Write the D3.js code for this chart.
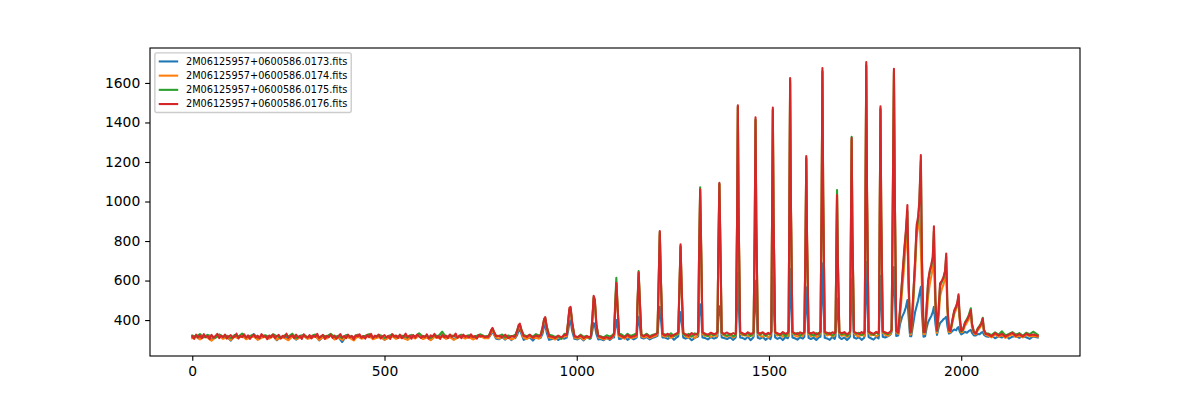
<!DOCTYPE html>
<html><head><meta charset="utf-8">
<script src="https://cdn.jsdelivr.net/npm/d3@7"></script>
<style>body{margin:0;background:#fff}svg{display:block}text{font-family:"DejaVu Sans",sans-serif;fill:#000}</style>
</head><body><svg id="chart" width="1200" height="400"></svg>
<script>
const seriesNames = ["2M06125957+0600586.0173.fits","2M06125957+0600586.0174.fits","2M06125957+0600586.0175.fits","2M06125957+0600586.0176.fits"];
const seriesColors = ["#1f77b4","#ff7f0e","#2ca02c","#d62728"];
const xTickValues = [0,500,1000,1500,2000];
const yTickValues = [400,600,800,1000,1200,1400,1600];

// flat part of the spectrum: samples every 10 units (files 0173-0175) and every 5 units (file 0176), 0 to 760
const flatX = d3.range(0, 761, 10);
const flatXFine = d3.range(0, 761, 5);
const flat0173 = [312,320,305,316,322,300,314,325,309,317,296,319,311,323,307,315,329,302,313,318,
309,321,298,316,312,306,324,301,315,319,308,313,322,297,316,310,326,305,314,289,
318,311,303,320,309,315,324,306,313,317,300,312,321,308,316,311,304,319,310,327,
307,315,301,318,312,320,308,316,303,313,321,309,317,305,314,322,311];
const flat0174 = [308,315,302,318,311,296,312,320,305,314,299,316,308,321,303,312,317,300,310,315,
306,319,301,313,309,298,316,304,311,320,305,310,318,299,313,307,322,302,311,300,
315,309,297,318,306,312,320,303,310,314,301,309,317,305,313,308,300,316,307,323,
304,312,298,315,309,317,305,313,300,310,318,306,314,302,311,319,308];
const flat0175 = [322,316,329,312,325,318,310,327,315,321,308,324,317,332,313,320,326,311,319,323,
314,328,318,311,323,316,331,309,320,325,313,319,327,312,322,317,330,314,321,309,
324,318,312,326,315,321,329,313,320,323,310,318,327,314,322,319,312,325,317,333,
316,321,309,324,318,341,314,322,320,313,326,318,323,315,321,328,317];
const flat0176 = [318,305,326,312,322,308,329,314,320,304,325,311,319,330,309,321,313,327,306,318,
324,310,316,331,307,320,314,328,311,323,305,317,326,312,321,308,329,315,319,303,
322,313,327,309,318,325,306,320,314,331,310,317,323,308,326,312,319,305,328,316,
311,324,307,321,315,330,309,318,325,304,320,313,327,310,322,306,316,329,312,319,
308,326,314,320,303,323,317,328,311,319,306,325,313,330,309,321,315,327,307,318,
324,312,320,305,329,316,322,310,326,308,318,331,314,321,306,324,311,327,317,309,
320,313,328,307,323,316,330,311,319,305,325,314,321,309,327,315,318,332,310,322,
308,326,315,320,311,328,314,319,306,324,316,321,315];

// emission-line region: shared x positions, one y array per file
const peakX = [
770,774,778,781,785,790, 798,806,814,822,830,838, 840,845,849,852,856,862, 870,878,886,894,902,
906,911,915,918,922,928, 936,944,952,960,968, 974,978,981,984,988,994, 1002,1010,1018,1026,1034,
1037,1041,1044,1047,1051,1056, 1062,1070,1078,1086,1094, 1097,1100,1103,1106,1110, 1116,1124,1132,1140,1148,1154,
1156,1158,1161,1164,1168, 1174,1182,1190,1198,1206, 1210,1213,1216,1219,1223, 1229,1237,1245,1253,1261,
1264,1267,1270,1273,1277, 1283,1291,1299,1307,1314, 1316,1318,1321,1324,1327, 1333,1341,1349,1357,1364,
1366,1368,1371,1374,1377, 1383,1391,1399,1407,1413, 1414,1417,1419,1421,1425, 1431,1438,1445,1452,1459,
1460,1463,1465,1467,1471, 1477,1484,1491,1498,1504, 1506,1508,1510,1512,1516, 1522,1529,1536,1543,1549,
1551,1553,1555,1557,1561, 1567,1574,1581,1588, 1592,1595,1597,1599,1603, 1609,1616,1623,1630,
1634,1637,1639,1641,1645, 1651,1658,1665,1671, 1673,1675,1677,1679,1683, 1689,1696,1703,1709,
1711,1713,1715,1717,1721, 1727,1734,1741,1747, 1749,1751,1753,1755,1759, 1765,1772,1779,1785,
1786,1788,1790,1792,1796, 1802,1809,1816, 1819,1822,1825,1827,1831,
1836,1841,1846,1852,1856,1860,1863,1867,
1870,1875,1880,1884,1888,1891,1895,1898,1902,
1906,1910,1914,1918,1922,1926,1929,1933,1937,
1941,1945,1950,1954,1958,1961,1964,1968,
1972,1977,1982,1987,1990,1993,1996,2000,
2004,2010,2015,2020,2025,2028,2033,
2038,2043,2048,2052,2056,2059,2064,
2070,2079,2088,2097,2106,2115,2124,2133,2142,2151,2160,2169,2178,2187,2199];

const peak0173 = [
310,318,332,340,325,306, 303,314,301,318,299,312, 308,325,345,355,330,300, 306,312,296,315,309,
310,330,368,378,335,300, 304,314,299,311,306, 312,350,390,398,345,305, 302,311,297,314,305,
310,350,385,375,330,302, 304,298,310,300,312, 312,360,400,362,305, 306,314,300,311,302,309,
312,370,417,370,310, 307,314,302,311,316, 320,400,467,405,312, 312,305,318,300,314,
318,390,440,390,312, 306,313,298,310,315, 318,420,480,420,312, 310,302,314,306,312,
318,420,470,420,312, 309,304,313,300,311, 316,480,640,490,312, 310,303,316,298,312,
316,470,599,480,310, 306,314,300,311,304, 318,480,616,490,312, 305,312,299,314,308,
318,500,658,510,312, 308,301,313,306, 315,460,566,470,310, 304,311,299,313,
316,520,687,530,310, 307,300,314,305, 318,430,510,435,312, 304,312,299,310,
318,480,606,490,312, 306,313,300,309, 320,530,695,540,314, 308,301,315,307,
320,490,624,500,315, 312,318,326, 340,520,668,560,320,
322,380,415,440,465,501,420,318,
318,380,440,470,500,530,568,430,316,
318,360,390,405,420,440,467,380,325,
360,385,395,405,410,417,370,332,
335,345,352,348,360,365,342,328,
332,340,336,345,350,335,322,
322,330,328,336,340,326,318,
315,322,308,318,312,325,306,316,320,310,318,313,305,317,312];

const peak0174 = [
308,322,343,350,330,312, 306,317,304,312,302,309, 312,338,365,372,342,310, 304,316,308,311,306,
315,352,398,408,358,312, 309,302,315,306,318, 318,392,450,455,382,312, 306,315,301,312,308,
316,410,510,495,372,312, 310,302,309,304,315, 325,465,590,475,318, 314,306,318,309,312,316,
320,470,635,490,318, 312,318,309,315,320, 330,580,835,590,322, 316,322,310,319,325,
332,550,770,550,328, 318,312,322,309,320, 336,690,1050,705,330, 320,328,315,324,318,
335,710,1085,715,330, 322,316,326,312,320, 336,890,1475,935,332, 322,330,318,326,320,
336,870,1410,885,330, 320,316,328,312,324, 338,890,1460,905,332, 321,328,316,325,319,
338,970,1600,985,334, 322,316,327,319, 335,790,1215,805,330, 318,326,314,322,
338,1005,1655,1020,332, 322,328,317,324, 336,690,1030,700,332, 320,326,315,323,
338,820,1310,835,334, 322,317,328,320, 340,1015,1685,1030,336, 322,328,317,325,
340,905,1465,920,336, 326,320,330, 345,990,1650,1080,338,
330,420,540,680,790,830,560,326,
330,470,650,820,880,930,760,560,328,
330,420,520,580,620,660,700,460,335,
410,520,560,580,610,650,450,340,
338,385,430,455,470,495,400,338,
340,372,388,405,435,365,332,
328,348,360,372,395,342,325,
322,312,328,316,324,310,320,328,314,322,312,326,318,320,316];

const peak0175 = [
320,332,350,356,340,322, 318,327,312,322,316,324, 322,348,372,378,352,325, 318,324,316,329,321,
325,362,402,412,368,326, 322,315,318,305,331, 328,398,455,460,388,320, 312,326,315,320,309,
322,415,515,500,378,320, 318,312,323,316,325, 335,490,614,480,330, 328,316,330,320,326,331,
330,490,648,505,328, 320,331,318,326,330, 338,588,845,595,332, 327,320,333,318,329,
335,555,775,555,330, 322,330,316,333,326, 342,710,1072,725,340, 326,318,331,322,335,
342,715,1090,725,336, 328,320,331,318,325, 342,895,1480,940,336, 330,322,336,319,332,
342,875,1415,890,338, 326,335,320,331,328, 344,895,1465,910,338, 330,322,334,318,333,
345,975,1615,990,340, 329,335,321,332, 340,795,1220,810,336, 328,321,334,326,
344,1010,1660,1030,338, 330,336,322,331, 344,715,1058,720,340, 327,334,320,331,
346,835,1328,855,342, 330,336,323,333, 348,1020,1690,1040,340, 331,325,337,329,
348,910,1470,930,342, 334,328,338, 352,995,1660,1090,344,
338,450,590,745,840,950,610,335,
340,510,690,860,910,990,1205,690,338,
340,460,590,640,670,710,850,490,345,
440,570,595,612,645,720,470,348,
344,398,445,468,488,522,415,342,
348,390,405,428,460,382,340,
334,358,372,385,412,352,332,
332,324,338,326,343,322,330,339,326,334,321,336,328,341,325];

const peak0176 = [
316,330,352,360,338,318, 321,313,326,309,319,315, 318,345,375,382,350,320, 314,326,311,322,317,
322,360,405,415,365,318, 316,309,321,312,325, 325,400,462,467,390,318, 314,322,309,318,312,
320,420,523,505,380,318, 316,308,314,306,320, 330,460,587,470,325, 320,312,325,314,318,322,
325,480,642,500,325, 318,326,314,322,328, 335,590,850,600,330, 322,331,318,326,333,
338,560,783,560,335, 328,320,334,325,331, 340,700,1062,720,338, 332,325,336,328,334,
340,720,1095,730,338, 330,337,326,334,329, 340,900,1487,950,338, 334,327,338,330,335,
340,880,1426,900,336, 332,338,327,335,330, 342,900,1475,920,338, 333,327,339,330,336,
344,980,1625,1000,340, 334,328,338,331, 340,800,1230,820,338, 332,338,326,335,
342,1020,1675,1040,340, 336,329,338,333, 342,700,1033,710,340, 333,339,328,336,
344,830,1322,850,340, 335,329,339,332, 346,1030,1706,1050,342, 336,330,340,334,
346,920,1482,940,342, 338,332,342, 350,1000,1672,1100,345,
336,460,600,760,850,982,620,338,
342,520,700,880,925,1000,1235,700,340,
340,470,600,650,680,720,875,500,348,
450,586,600,619,650,737,480,350,
345,400,450,470,490,530,420,345,
350,385,400,420,451,380,338,
332,355,368,380,408,350,330,
328,318,334,322,330,316,326,335,320,329,317,331,323,327,321];

const flatXs = [flatX, flatX, flatX, flatXFine];
const flats = [flat0173, flat0174, flat0175, flat0176];
const peaks = [peak0173, peak0174, peak0175, peak0176];

// ---------- layout ----------
const W = 1200, H = 400;
const m = {left:150, right:1080, top:48, bottom:356};
const px = v => v*100/72; // pt -> px at 100 dpi

const series = seriesNames.map((name, i) => {
  const xs = flatXs[i].concat(peakX);
  const ys = flats[i].concat(peaks[i]);
  const n = Math.min(xs.length, ys.length);
  if (xs.length !== ys.length) console.warn("length mismatch", name, xs.length, ys.length);
  return {name, color: seriesColors[i], points: d3.range(n).map(k => [xs[k], ys[k]])};
});

const allX = series.flatMap(s => s.points.map(p => p[0]));
const allY = series.flatMap(s => s.points.map(p => p[1]));
const [x0, x1] = d3.extent(allX), [y0, y1] = d3.extent(allY);
const padX = (x1 - x0)*0.05, padY = (y1 - y0)*0.05;
const x = d3.scaleLinear().domain([x0 - padX, x1 + padX]).range([m.left, m.right]);
const y = d3.scaleLinear().domain([y0 - padY, y1 + padY]).range([m.bottom, m.top]);

const svg = d3.select("#chart");
svg.append("rect").attr("width", W).attr("height", H).attr("fill", "#fff");

svg.append("defs").append("clipPath").attr("id","clip")
  .append("rect").attr("x", m.left).attr("y", m.top).attr("width", m.right-m.left).attr("height", m.bottom-m.top);

const line = d3.line().x(d => x(d[0])).y(d => y(d[1]));
svg.append("g").attr("clip-path","url(#clip)")
  .selectAll("path").data(series).join("path")
  .attr("d", d => line(d.points))
  .attr("fill","none").attr("stroke", d => d.color)
  .attr("stroke-width", px(1.5)).attr("stroke-linejoin","round").attr("stroke-linecap","square");

const tickLen = px(3.5), tickPad = px(3.5), fs = px(10);
const xAxis = svg.append("g").attr("transform", `translate(0,${m.bottom})`)
  .call(d3.axisBottom(x).tickValues(xTickValues).tickFormat(d3.format("d")).tickSize(tickLen).tickPadding(tickPad));
const yAxis = svg.append("g").attr("transform", `translate(${m.left},0)`)
  .call(d3.axisLeft(y).tickValues(yTickValues).tickFormat(d3.format("d")).tickSize(tickLen).tickPadding(tickPad));
[xAxis, yAxis].forEach(g => {
  g.select(".domain").remove();
  g.selectAll(".tick line").attr("stroke","#000").attr("stroke-width", px(0.8));
  g.selectAll(".tick text").attr("font-family","DejaVu Sans").attr("font-size", fs).attr("fill","#000");
});

svg.append("rect").attr("x", m.left).attr("y", m.top)
  .attr("width", m.right-m.left).attr("height", m.bottom-m.top)
  .attr("fill","none").attr("stroke","#000").attr("stroke-width", px(0.8));

// ---------- legend ----------
const lfs = px(7);
const lg = svg.append("g").attr("transform", `translate(${m.left + 0.5*lfs},${m.top + 0.5*lfs})`);
const frame = lg.append("rect").attr("rx", 0.2*lfs).attr("ry", 0.2*lfs)
  .attr("fill","#fff").attr("fill-opacity",0.8).attr("stroke","#cccccc").attr("stroke-width", px(1));
const rowH = 14.2, bpad = 0.4*lfs, hlen = 2*lfs, htp = 0.8*lfs;
let maxW = 0;
series.forEach((s, i) => {
  const cy = bpad + 4.7 + i*rowH;
  lg.append("line").attr("x1", bpad).attr("x2", bpad + hlen).attr("y1", cy).attr("y2", cy)
    .attr("stroke", s.color).attr("stroke-width", px(1.5));
  const t = lg.append("text").attr("x", bpad + hlen + htp).attr("y", cy).attr("dy","0.35em")
    .attr("font-size", lfs).text(s.name);
  maxW = Math.max(maxW, t.node().getComputedTextLength());
});
frame.attr("x",0).attr("y",0).attr("width", bpad + hlen + htp + maxW + bpad)
  .attr("height", 2*bpad + 3*rowH + 9.7 - 0.4);
</script></body></html>
